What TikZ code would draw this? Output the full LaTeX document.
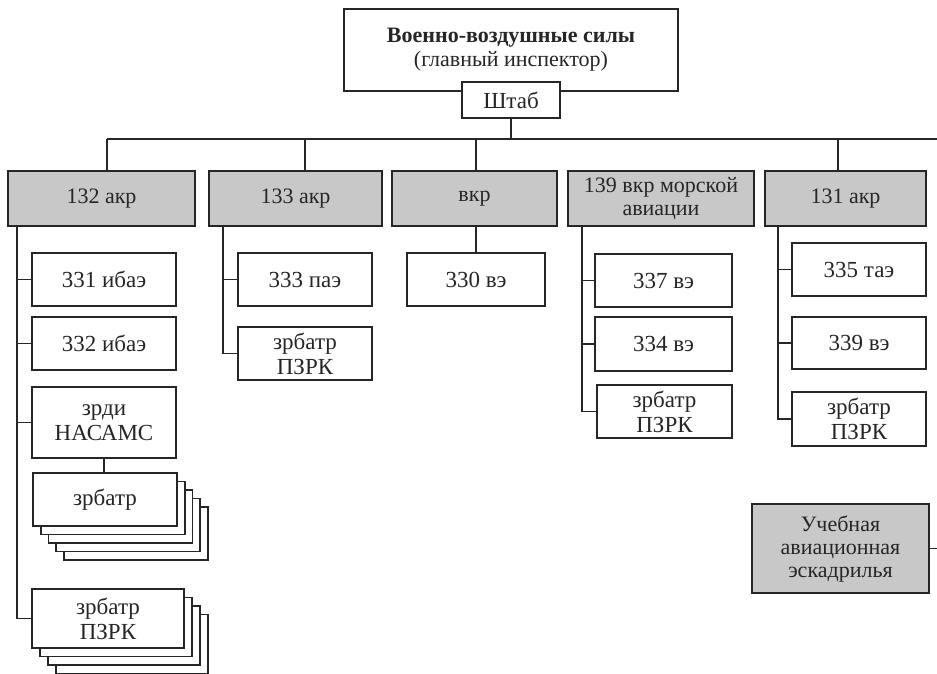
\documentclass[tikz,border=0pt]{standalone}
\usepackage{fontspec}
\setmainfont{Liberation Serif}
\usepackage{tikz}
\usetikzlibrary{calc}
\definecolor{ink}{HTML}{262626}
\definecolor{unitgray}{HTML}{C8C8C8}
\tikzset{
  hqbox/.style={
    draw=ink, line width=1.8pt, fill=white,
    align=center, inner sep=0pt, text=ink,
    font=\fontsize{22}{24}\selectfont
  },
  unit/.style={
    draw=ink, line width=1.8pt, fill=unitgray,
    minimum height=55pt,
    align=center, inner sep=0pt, text=ink,
    font=\fontsize{22}{23}\selectfont
  },
  sub/.style={
    draw=ink, line width=1.8pt, fill=white,
    minimum width=134pt, minimum height=53pt,
    align=center, inner sep=0pt, text=ink,
    font=\fontsize{23}{25}\selectfont
  },
  link/.style={draw=ink, line width=1.1pt}
}

\begin{document}
\begin{tikzpicture}[x=1pt, y=-1pt]
  \useasboundingbox (0,0) rectangle (937,673);

  % Command
  \node[hqbox, minimum width=334pt, minimum height=82pt] (vvs) at (511,50)
    {\textbf{Военно-воздушные силы}\\(главный инспектор)};
  \node[hqbox, minimum width=98pt, minimum height=36pt, font=\fontsize{23}{25}\selectfont] (shtab) at (511,100) {Штаб};

  % Bus
  \coordinate (bus w) at (107,139);
  \coordinate (bus e) at (937,139);
  \coordinate (b133) at (305,139);
  \coordinate (bvkr) at (476,139);
  \coordinate (b131) at (838,139);
  \draw[link] (bus w) -- (bus e);
  \draw[link] (shtab.south) -- (shtab.south |- bus w);

  % Regiments
  \node[unit, minimum width=187pt] (g132) at (101.5,198.5) {132 акр};
  \node[unit, minimum width=173pt] (g133) at (295.5,198.5) {133 акр};
  \node[unit, minimum width=165pt] (gvkr) at (474.5,198.5) {вкр};
  \node[unit, minimum width=186pt] (g139) at (661,198.5) {139 вкр морской\\авиации};
  \node[unit, minimum width=161pt] (g131) at (845.5,198.5) {131 акр};
  \draw[link] (bus w) -- (bus w |- g132.north);
  \draw[link] (b133) -- (b133 |- g133.north);
  \draw[link] (bvkr) -- (bvkr |- gvkr.north);
  \draw[link] (b131) -- (b131 |- g131.north);

  % 132 akr
  \node[sub, minimum width=144pt] (l331) at (104,279.5) {331 ибаэ};
  \node[sub, minimum width=144pt] (l332) at (104,343.5) {332 ибаэ};
  \node[sub, minimum width=144pt, minimum height=71pt] (nasams) at (104,422.5) {зрди\\НАСАМС};
  \foreach \k in {4,3,2,1}
    \node[sub, minimum width=144pt] (zrb\k) at ($(105,499.5)+(\k*7.7,\k*8.5)$) {};
  \node[sub, minimum width=144pt] (zrb) at (105,499.5) {зрбатр};
  \foreach \k in {3,2,1}
    \node[sub, minimum width=152pt, minimum height=59pt] (pz132\k) at ($(108,618.5)+(\k*8,\k*8.5)$) {};
  \node[sub, minimum width=152pt, minimum height=59pt] (pz132) at (108,618.5) {зрбатр\\ПЗРК};
  \coordinate (t132) at (17,0);
  \draw[link] (t132 |- g132.south) |- (pz132.west);
  \foreach \n in {l331,l332,nasams}
    \draw[link] (t132 |- \n.west) -- (\n.west);
  \draw[link] (nasams.south) -- (nasams.south |- zrb.north);

  % 133 akr
  \node[sub] (l333) at (305,279.5) {333 паэ};
  \node[sub] (pz133) at (305,353.5) {зрбатр\\ПЗРК};
  \coordinate (t133) at (223,0);
  \draw[link] (t133 |- g133.south) |- (pz133.west);
  \draw[link] (t133 |- l333.west) -- (l333.west);

  % vkr
  \node[sub, minimum width=138pt] (l330) at (476,279.5) {330 вэ};
  \draw[link] (l330.north |- gvkr.south) -- (l330.north);

  % 139 vkr
  \node[sub, minimum width=137pt] (l337) at (663.5,280.5) {337 вэ};
  \node[sub, minimum width=137pt, minimum height=54pt] (l334) at (663.5,344) {334 вэ};
  \node[sub, minimum width=135pt] (pz139) at (664.5,411.5) {зрбатр\\ПЗРК};
  \coordinate (t139) at (582,0);
  \draw[link] (t139 |- g139.south) |- (pz139.west);
  \foreach \n in {l337,l334}
    \draw[link] (t139 |- \n.west) -- (\n.west);

  % 131 akr
  \node[sub] (l335) at (859,269.5) {335 таэ};
  \node[sub, minimum height=52pt] (l339) at (859,343) {339 вэ};
  \node[sub, minimum height=54pt] (pz131) at (859,419) {зрбатр\\ПЗРК};
  \coordinate (t131) at (778,0);
  \draw[link] (t131 |- g131.south) |- (pz131.west);
  \foreach \n in {l335,l339}
    \draw[link] (t131 |- \n.west) -- (\n.west);

  % Training squadron
  \node[unit, minimum width=177pt, minimum height=89pt] (uae) at (840.5,548.5)
    {Учебная\\авиационная\\эскадрилья};
  \coordinate (uae e) at (937,548.5);
  \draw[link] (uae.east) -- (uae e);
\end{tikzpicture}
\end{document}
